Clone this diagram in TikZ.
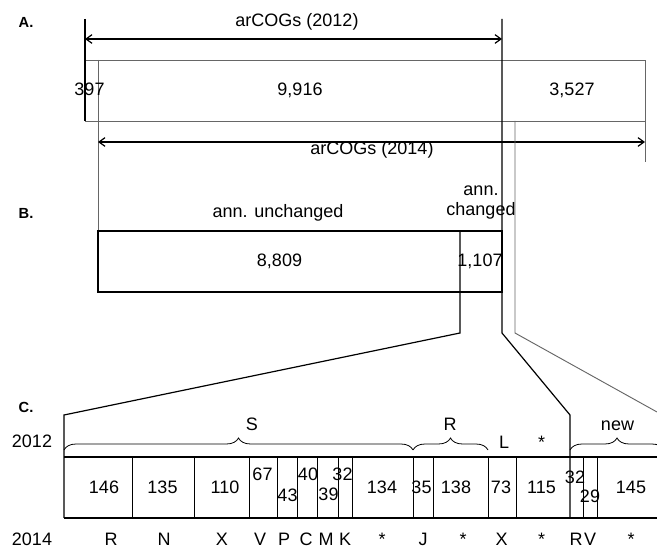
\documentclass[tikz,border=0pt]{standalone}
\usepackage{fontspec}
\setmainfont{Liberation Sans}
\usetikzlibrary{arrows.meta,decorations.pathreplacing}

\begin{document}
\begin{tikzpicture}[x=0.75pt,y=-0.75pt,
  font=\fontsize{13.5}{16}\selectfont,
  ln/.style={line width=0.9pt},
  gln/.style={line width=0.7pt,black!60},
  dim/.style={line width=0.9pt,{Straight Barb[length=4.5pt,width=6.5pt]}-{Straight Barb[length=4.5pt,width=6.5pt]}},
  lbl/.style={font=\fontsize{11}{13}\selectfont\bfseries},
  brc/.style={line width=0.6pt,decorate,decoration={brace,amplitude=9pt}},
  txt/.style={inner sep=0pt,anchor=base}]
\useasboundingbox (0,0) rectangle (657,548);
% panel labels
\node[lbl] (pa) at (26,22) {A.};
\node[lbl] (pb) at (26,213) {B.};
\node[lbl] (pc) at (26,407) {C.};
% A: arCOGs 2012 vs 2014
\coordinate (o12t) at (85,19);  \coordinate (o12b) at (85,121);
\coordinate (o14t) at (98,60);  \coordinate (o14b) at (98,292);
\coordinate (cut)  at (502,19); \coordinate (cutb) at (502,333);
\coordinate (nwt)  at (515,121); \coordinate (nwb) at (515,333);
\coordinate (endt) at (645,121); \coordinate (endb) at (645,162);
\draw[gln] (85,60) rectangle (645,121);
\draw[ln] (o12t) -- (o12b);
\draw[gln] (o14t) -- (o14b);
\draw[gln] (endt) -- (endb);
\draw[dim] (85,39) -- (502,39);
\draw[dim] (98,142) -- (645,142);
\node[txt] (t12) at (297,27) {arCOGs (2012)};
\node[txt] (t14) at (372,155) {arCOGs (2014)};
\node[txt] (n397) at (89.5,96) {397};
\node[txt] (n9916) at (300,96) {9,916};
\node[txt] (n3527) at (572,96) {3,527};
% B: annotation changes
\draw[ln] (98,231) rectangle (502,292);
\node[txt] (unch) at (278,218) {ann. unchanged};
\node[inner sep=0pt,align=center] (chg) at (481,203) {ann.\\[-1pt]changed};
\node[txt] (n8809) at (279.5,266.5) {8,809};
\node[txt] (n1107) at (480,266.5) {1,107};
% zoom lines to C
\coordinate (cl) at (64,415); \coordinate (cm) at (570,415);
\draw[ln] (460,231) -- (460,333) -- (cl) -- (64,518);
\draw[ln] (cut) -- (cutb) -- (cm) -- (570,518);
\draw[gln] (nwt) -- (nwb) -- (657,412);
% C: breakdown by functional class
\draw[ln] (64,457) -- (665,457);
\draw[ln] (64,518) -- (665,518);
\foreach \x in {132,194,249,277,297,317,338,352,413,433,488,516,583,597}
  \draw[ln,line width=0.7pt] (\x,457) -- (\x,518);
\foreach \x/\y/\t [count=\i] in {104/487/146,162.5/487/135,225/487/110,262.5/474/67,
    287.5/495/43,308/474/40,328.5/494/39,342.5/474/32,382/487/134,421.5/487/35,
    456/487/138,501/487/73,541.5/487/115,575/477.5/32,590/496.5/29,631/487/145}
  \node[inner sep=0pt] (c\i) at (\x,\y) {\t};
% 2012 classes
\node[txt] (y12) at (32,448) {2012};
\draw[brc] (64,450) -- (413,450);
\draw[brc] (413,450) -- (488,450);
\draw[brc] (570,450) -- (664,450);
\node[txt] (bS) at (252,431) {S};
\node[txt] (bR) at (450,431) {R};
\node[txt] (bnew) at (617.5,431) {new};
\node[txt] (bL) at (504,449) {L};
\node[txt] (bst) at (541.5,449) {*};
% 2014 classes
\node[txt] (y14) at (32,546) {2014};
\foreach \x/\t [count=\i] in {111/R,164/N,222/X,260/V,284/P,306/C,326/M,345/K,
    382/*,423/J,463/*,501.5/X,541.5/*,576/R,590/V,631/*}
  \node[txt] (d\i) at (\x,546) {\t};
\end{tikzpicture}
\end{document}
